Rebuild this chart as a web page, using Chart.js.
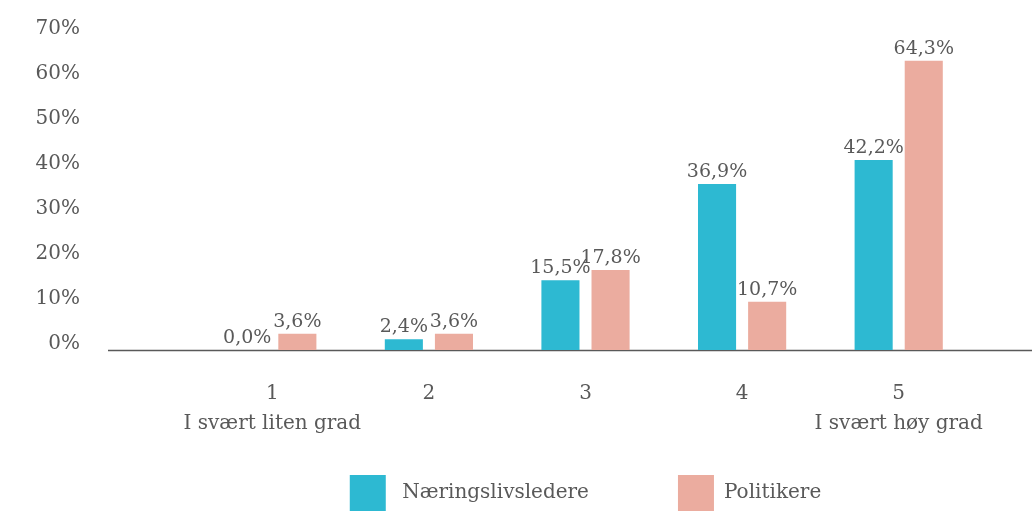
<!DOCTYPE html>
<html lang="no">
  <head>
    <meta charset="UTF-8" />
    <script src="https://cdn.jsdelivr.net/npm/chart.js@4.4.0/dist/chart.umd.min.js"></script>
    <title>Grad</title>
    <style>
      body {
        margin: 0;
        padding: 0;
        background: white;
      }

      .container {
        width: 1032px;
        height: 511px;
        position: relative;
      }
    </style>
  </head>
  <body>
    <div class="container">
      <canvas id="chart"></canvas>
    </div>
    <script>
      const categories = [
        ['1', 'I svært liten grad'],
        '2',
        '3',
        '4',
        ['5', 'I svært høy grad'],
      ]
      const naeringsliv = [0.0, 2.4, 15.5, 36.9, 42.2]
      const politikere = [3.6, 3.6, 17.8, 10.7, 64.3]
      const yTicks = [0, 10, 20, 30, 40, 50, 60, 70]

      const textColor = '#595959'
      const serif = "'DejaVu Serif', Georgia, serif"

      const fmt = (v) => v.toFixed(1).replace('.', ',') + '%'

      // value labels above each bar
      const valueLabels = {
        id: 'valueLabels',
        afterDatasetsDraw(chart) {
          const ctx = chart.ctx
          ctx.save()
          ctx.font = '19px ' + serif
          ctx.fillStyle = textColor
          ctx.textAlign = 'center'
          ctx.textBaseline = 'alphabetic'
          chart.data.datasets.forEach((ds, i) => {
            chart.getDatasetMeta(i).data.forEach((bar, j) => {
              ctx.fillText(fmt(ds.data[j]), bar.x, bar.y - 7)
            })
          })
          ctx.restore()
        },
      }

      // the baseline runs wider than the plot area
      const baseline = {
        id: 'baseline',
        beforeDatasetsDraw(chart) {
          const ctx = chart.ctx
          const y = Math.round(chart.scales.y.getPixelForValue(0)) + 0.5
          ctx.save()
          ctx.strokeStyle = textColor
          ctx.lineWidth = 1.5
          ctx.beginPath()
          ctx.moveTo(chart.chartArea.left - 86, y)
          ctx.lineTo(chart.width, y)
          ctx.stroke()
          ctx.restore()
        },
      }

      new Chart(document.getElementById('chart'), {
        type: 'bar',
        data: {
          labels: categories,
          datasets: [
            {
              label: 'Næringslivsledere',
              data: naeringsliv,
              backgroundColor: '#2DB9D2',
              categoryPercentage: 0.64,
              barPercentage: 0.76,
            },
            {
              label: 'Politikere',
              data: politikere,
              backgroundColor: '#EBAC9F',
              categoryPercentage: 0.64,
              barPercentage: 0.76,
            },
          ],
        },
        options: {
          responsive: true,
          maintainAspectRatio: false,
          animation: false,
          layout: {
            padding: { left: 30, right: 55, top: 35, bottom: -10 },
          },
          plugins: {
            legend: {
              position: 'bottom',
              fullSize: false,
              labels: {
                boxWidth: 36,
                boxHeight: 36,
                padding: 0,
                color: textColor,
                font: { family: serif, size: 20 },
                // extra spaces widen the gaps the way the original does
                generateLabels: (chart) =>
                  Chart.defaults.plugins.legend.labels
                    .generateLabels(chart)
                    .map((item, i) => {
                      if (i === 0) item.text = ' ' + item.text + ' '.repeat(14)
                      return item
                    }),
              },
            },
            tooltip: { enabled: false },
          },
          scales: {
            x: {
              grid: { display: false, drawTicks: false },
              border: { display: false },
              afterFit: (axis) => {
                axis.height = 125
              },
              ticks: {
                color: textColor,
                padding: 29,
                autoSkip: false,
                font: { family: serif, size: 20, lineHeight: 1.5 },
                maxRotation: 0,
              },
            },
            y: {
              min: 0,
              max: 70,
              afterFit: (axis) => {
                axis.width = 164
                // big tick padding would otherwise push the plot down
                axis.paddingTop = 0
                axis.paddingBottom = 0
              },
              afterBuildTicks: (axis) => {
                axis.ticks = yTicks.map((v) => ({ value: v }))
              },
              grid: { display: false, drawTicks: false },
              border: { display: false },
              ticks: {
                color: textColor,
                padding: 114,
                labelOffset: -6,
                autoSkip: false,
                font: { family: serif, size: 20 },
                callback: (v) => v + '%',
              },
            },
          },
        },
        plugins: [valueLabels, baseline],
      })
    </script>
  </body>
</html>
